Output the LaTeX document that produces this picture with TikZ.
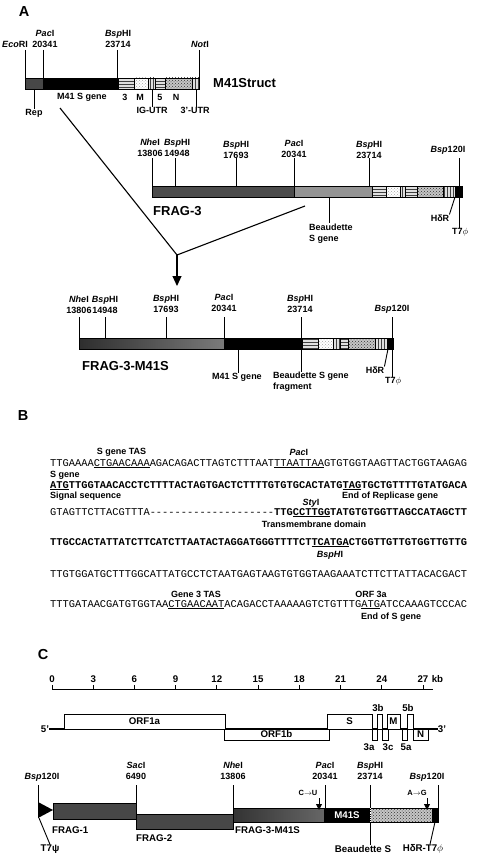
\documentclass[tikz,border=0pt]{standalone}
\usepackage{fontspec}
\setmainfont{Liberation Sans}
\newfontfamily\seqfont[Ligatures=TeXOff]{Liberation Mono}
\usetikzlibrary{arrows.meta,patterns}

\tikzset{
  lab/.style={font=\fontsize{9}{11}\selectfont\bfseries, inner sep=0pt, align=center},
  clab/.style={font=\fontsize{9.7}{11}\selectfont\bfseries, inner sep=0pt},
  ttl/.style={font=\fontsize{13}{15}\selectfont\bfseries, inner sep=0pt, anchor=west},
  panel/.style={font=\fontsize{14.5}{16}\selectfont\bfseries, inner sep=0pt},
  seq/.style={font=\seqfont\fontsize{10.37}{12}\selectfont, inner sep=0pt, anchor=base west},
  tick/.style={line width=0.9pt},
  seg/.style={draw=black, line width=0.5pt},
  blk/.style={seg, fill=black},
  rep/.style={seg, fill=black!72},
  drk/.style={seg, fill=black!70},
  bea/.style={seg, fill=black!42},
  hz/.style={seg, preaction={fill=gray!25}, pattern=horizontal lines, pattern color=black!75},
  dt/.style={seg, preaction={fill=white}, pattern=crosshatch dots, pattern color=black!35},
  vt/.style={seg, preaction={fill=gray!25}, pattern=vertical lines, pattern color=black!75},
  ch/.style={seg, preaction={fill=gray!45}, pattern=crosshatch dots, pattern color=black!80},
  orf/.style={draw=black, fill=white, line width=0.6pt},
}

\begin{document}
\begin{tikzpicture}[x=1pt,y=-1pt]
  \useasboundingbox (0,0) rectangle (481,856);

  %%  Panel A  %%%%%%%%
  \node[panel] (pA) at (24,12) {A};
  % M41Struct
  \foreach \xa/\xb/\st in {25/43/rep, 43/118/blk, 118/134/hz, 134/148/dt, 148/155/vt, 155/165/hz, 165/192/ch, 192/199/vt}
    \path[\st] (\xa,78) rectangle (\xb,89);
  \foreach \n/\x in {eco/25, pac/43, bsp/117, not/199} {
    \coordinate (\n-t) at (\x,50);
    \coordinate (\n-b) at (\x,78);
    \draw[tick] (\n-t) -- (\n-b);
  }
  \node[lab] (ecori) at (15,44) {\textit{Eco}RI};
  \node[lab] (paci) at (45,38.5) {\textit{Pac}I\\20341};
  \node[lab] (bsphi) at (118,38.5) {\textit{Bsp}HI\\23714};
  \node[lab] (noti) at (200,44) {\textit{Not}I};
  \node[ttl] (m41struct) at (213,83) {M41Struct};
  \node[lab] (rep) at (34,113) {Rep};
  \node[lab] (m41s) at (82,97) {M41 S gene};
  \node[lab] (g3) at (125,97) {3};
  \node[lab] (gm) at (140,97) {M};
  \node[lab] (g5) at (160,97) {5};
  \node[lab] (gn) at (176,97) {N};
  \node[lab] (igutr) at (152,110) {IG-UTR};
  \node[lab] (utr) at (195,110) {3'-UTR};
  \coordinate (rep-b) at (34,89);
  \coordinate (ig-b) at (152,89);
  \coordinate (utr-b) at (196,89);
  \draw[tick] (rep-b) -- (rep.north);
  \draw[tick] (ig-b) -- (igutr.north);
  \draw[tick] (utr-b) -- (utr.north -| utr-b);

  % crossing lines
  \coordinate (x1) at (60,108);
  \coordinate (x2) at (305,206);
  \coordinate (vtx) at (177,255);
  \coordinate (arr) at (177,286);
  \draw[line width=1.1pt] (x1) -- (vtx) -- (x2);
  \draw[line width=1.1pt, -{Triangle[width=9pt,length=10pt]}] (vtx) -- (arr);

  % FRAG-3
  \foreach \xa/\xb/\st in {152/294/drk, 294/372/bea, 372/386/hz, 386/400/dt, 400/405/vt, 405/417/hz, 417/443/ch, 443/455/vt, 455/462/blk}
    \path[\st] (\xa,186) rectangle (\xb,197);
  \foreach \n/\x in {nhe/152, bspa/175, bspb/236, pac/294, bspc/369} {
    \coordinate (f3\n-t) at (\x,158);
    \coordinate (f3\n-b) at (\x,186);
    \draw[tick] (f3\n-t) -- (f3\n-b);
  }
  \node[lab] (f3nhe) at (150,147.5) {\textit{Nhe}I\\13806};
  \node[lab] (f3bspa) at (177,147.5) {\textit{Bsp}HI\\14948};
  \node[lab] (f3bspb) at (236,150) {\textit{Bsp}HI\\17693};
  \node[lab] (f3pac) at (294,148.5) {\textit{Pac}I\\20341};
  \node[lab] (f3bspc) at (369,150) {\textit{Bsp}HI\\23714};
  \node[lab] (f3bsp120) at (448,150) {\textit{Bsp}120I};
  \node[ttl] (frag3) at (153,211) {FRAG-3};
  \node[lab, anchor=north west, align=left] (f3beau) at (309,224) {Beaudette\\S gene};
  \node[lab] (f3hdr) at (440,218) {HδR};
  \node[lab] (f3t7) at (460,232) {T7$\phi$};
  \coordinate (f3beau-b) at (329,197);
  \coordinate (f3beau-t) at (329,223);
  \draw[tick] (f3beau-b) -- (f3beau-t);
  \coordinate (f3t7-t) at (459,158);
  \draw[tick] (f3t7-t) -- (f3t7.north -| f3t7-t);
  \coordinate (f3hdr-b) at (455,197);
  \draw[tick] (f3hdr-b) -- (f3hdr.north east);

  % FRAG-3-M41S
  \path[seg, left color=black!82, right color=black!52] (79,338) rectangle (224,349);
  \foreach \xa/\xb/\st in {224/300/blk, 302/318/hz, 318/333/dt, 333/340/vt, 340/348/hz, 348/375/ch, 375/387/vt, 387/393/blk}
    \path[\st] (\xa,338) rectangle (\xb,349);
  \foreach \n/\x in {nhe/79, bspa/105, bspb/166, pac/224} {
    \coordinate (fm\n-t) at (\x,317);
    \coordinate (fm\n-b) at (\x,338);
    \draw[tick] (fm\n-t) -- (fm\n-b);
  }
  \node[lab] (fmnhe) at (79,304.5) {\textit{Nhe}I\\13806};
  \node[lab] (fmbspa) at (105,304.5) {\textit{Bsp}HI\\14948};
  \node[lab] (fmbspb) at (166,304) {\textit{Bsp}HI\\17693};
  \node[lab] (fmpac) at (224,303) {\textit{Pac}I\\20341};
  \node[lab] (fmbspc) at (300,304) {\textit{Bsp}HI\\23714};
  \node[lab] (fmbsp120) at (392,309) {\textit{Bsp}120I};
  \node[ttl] (frag3m) at (82,366) {FRAG-3-M41S};
  \node[lab] (fmm41) at (237,377) {M41 S gene};
  \node[lab, anchor=north west, align=left] (fmbeau) at (273,372) {Beaudette S gene\\fragment};
  \node[lab] (fmhdr) at (375,370) {HδR};
  \node[lab] (fmt7) at (393,381) {T7$\phi$};
  \coordinate (fmm41-b) at (238,349);
  \draw[tick] (fmm41-b) -- (fmm41.north -| fmm41-b);
  \coordinate (fmbeau-t) at (301,317);
  \draw[tick] (fmbeau-t) -- (fmbeau.north -| fmbeau-t);
  \coordinate (fmt7-t) at (392,317);
  \draw[tick] (fmt7-t) -- (fmt7.north -| fmt7-t);
  \coordinate (fmhdr-b) at (388,349);
  \draw[tick] (fmhdr-b) -- (fmhdr.north east);

  %%  Panel B  %%%%%%%%
  \node[panel] (pB) at (23,416) {B};
  \node[seq] (s1) at (50,466) {TTGAAAA\underline{CTGAACAAA}AGACAGACTTAGTCTTTAAT\underline{TTAATTAA}GTGTGGTAAGTTACTGGTAAGAG};
  \node[seq] (s2) at (50,488) {\bfseries\underline{ATG}TTGGTAACACCTCTTTTACTAGTGACTCTTTTGTGTGCACTATG\underline{TAG}TGCTGTTTTGTATGACA};
  \node[seq] (s3) at (50,515) {GTAGTTCTTACGTTTA--------------------\textbf{TTG\underline{CCTTGG}TATGTGTGGTTAGCCATAGCTT}};
  \node[seq] (s4) at (50,545) {\bfseries TTGCCACTATTATCTTCATCTTAATACTAGGATGGGTTTTCT\underline{TCATGA}CTGGTTGTTGTGGTTGTTG};
  \node[seq] (s5) at (50,577) {TTGTGGATGCTTTGGCATTATGCCTCTAATGAGTAAGTGTGGTAAGAAATCTTCTTATTACACGACT};
  \node[seq] (s6) at (50,607) {TTTGATAACGATGTGGTAA\underline{CTGAACAAT}ACAGACCTAAAAAGTCTGTTTG\underline{ATG}ATCCAAAGTCCCAC};
  \node[lab] (tas) at (121.5,452) {S gene TAS};
  \node[lab] (pacb) at (298.8,452) {\textit{Pac}I};
  \node[lab, anchor=west] (sgene) at (50,475) {S gene};
  \node[lab, anchor=west] (sig) at (50,496) {Signal sequence};
  \node[lab, anchor=west] (endrep) at (342,496) {End of Replicase gene};
  \node[lab] (styi) at (311,503) {\textit{Sty}I};
  \node[lab] (tm) at (314,524) {Transmembrane domain};
  \node[lab] (bspb) at (330,555) {\textit{BspH}I};
  \node[lab] (g3tas) at (196,594) {Gene 3 TAS};
  \node[lab] (orf3a) at (371,594) {ORF 3a};
  \node[lab, anchor=west] (ends) at (361,617) {End of S gene};

  %%  Panel C  %%%%%%%%
  \node[panel] (pC) at (43,655) {C};
  % scale
  \coordinate (ax0) at (52,689);
  \coordinate (ax1) at (433,689);
  \draw[line width=0.8pt] (ax0) -- (ax1);
  \foreach \k [count=\i from 0] in {0,3,...,27} {
    \draw[line width=0.8pt] (52+\i*41.22,689) -- (52+\i*41.22,685);
    \node[clab] (kb\k) at (52+\i*41.22,679) {\k};
  }
  \node[clab, anchor=west] (kb) at ([xshift=3pt]kb27.east) {kb};
  % genome map
  \node[clab] (five) at (45,729) {5'};
  \node[clab] (three) at (442,729) {3'};
  \draw[line width=1.6pt] (five.east) -- (three.west);
  \draw[orf] (64,714) rectangle (225,729) node[midway, clab] (orf1a) {ORF1a};
  \draw[orf] (224,729) rectangle (329,740) node[midway, clab] (orf1b) {ORF1b};
  \draw[orf] (327,714) rectangle (372,729) node[midway, clab] (os) {S};
  \draw[orf] (372,729) rectangle (377,740) coordinate (o3a);
  \draw[orf] (377,714) rectangle (382,729) coordinate (o3b);
  \draw[orf] (382,729) rectangle (388,740) coordinate (o3c);
  \draw[orf] (387,714) rectangle (400,729) node[midway, clab] (om) {M};
  \draw[orf] (402,729) rectangle (407,740) coordinate (o5a);
  \draw[orf] (407,714) rectangle (413,729) coordinate (o5b);
  \draw[orf] (413,729) rectangle (428,740) node[midway, clab] (on) {N};
  \node[clab] (l3b) at (378,708) {3b};
  \node[clab] (l5b) at (408,708) {5b};
  \node[clab] (l3a) at (369,747) {3a};
  \node[clab] (l3c) at (388,747) {3c};
  \node[clab] (l5a) at (406,747) {5a};

  % fragments
  \path[rep] (53,803) rectangle (136,819);
  \path[rep] (136,814) rectangle (233,829);
  \path[seg, left color=black!80, right color=black!60] (233,808) rectangle (324,822);
  \path[blk] (324,808) rectangle (370,822);
  \path[ch] (370,808) rectangle (432,822);
  \path[blk] (432,808) rectangle (438,822);
  \node[clab, text=white] (m41box) at (347,815) {M41S};
  \foreach \n/\x/\yb in {bl/38/818, sac/136/814, nhe/233/808, pac/325/808, bsp/370/808, br/438/808} {
    \coordinate (c\n-t) at (\x,785);
    \coordinate (c\n-b) at (\x,\yb);
    \draw[tick] (c\n-t) -- (c\n-b);
  }
  \fill (38,802) -- (53,810) -- (38,818) -- cycle;
  \draw[white, line width=0.8pt, densely dotted] (370,808) -- (370,822);
  \node[lab] (cbl) at (42,777) {\textit{Bsp}120I};
  \node[lab] (csac) at (136,770.5) {\textit{Sac}I\\6490};
  \node[lab] (cnhe) at (233,770.5) {\textit{Nhe}I\\13806};
  \node[lab] (cpac) at (325,770.5) {\textit{Pac}I\\20341};
  \node[lab] (cbsp) at (370,770.5) {\textit{Bsp}HI\\23714};
  \node[lab] (cbr) at (427,777) {\textit{Bsp}120I};
  \node[lab, font=\fontsize{7.5}{9}\selectfont\bfseries] (cu) at (308,793) {C$\to$U};
  \node[lab, font=\fontsize{7.5}{9}\selectfont\bfseries] (ag) at (417,793) {A$\to$G};
  \coordinate (cu-a) at (319,798);
  \coordinate (cu-b) at (319,810);
  \coordinate (ag-a) at (427,798);
  \coordinate (ag-b) at (427,810);
  \draw[line width=0.8pt, -{Triangle[width=6pt,length=6pt]}] (cu-a) -- (cu-b);
  \draw[line width=0.8pt, -{Triangle[width=6pt,length=6pt]}] (ag-a) -- (ag-b);
  \node[clab, anchor=west] (frag1) at (52,830) {FRAG-1};
  \node[clab, anchor=west] (frag2) at (136,838) {FRAG-2};
  \node[clab, anchor=west] (frag3c) at (235,830) {FRAG-3-M41S};
  \node[clab] (beau) at (363,849) {Beaudette S};
  \node[clab] (hdrt7) at (423,849) {HδR-T7$\phi$};
  \node[clab] (t7psi) at (50,849) {T7ψ};
  \coordinate (beau-b) at (370,822);
  \draw[tick] (beau-b) -- (beau.north -| beau-b);
  \coordinate (hdr-b) at (435,822);
  \draw[tick] (hdr-b) -- ([xshift=7pt]hdrt7.north);
  \coordinate (t7-b) at (39,818);
  \draw[tick] (t7-b) -- (t7psi.north);
\end{tikzpicture}
\end{document}
